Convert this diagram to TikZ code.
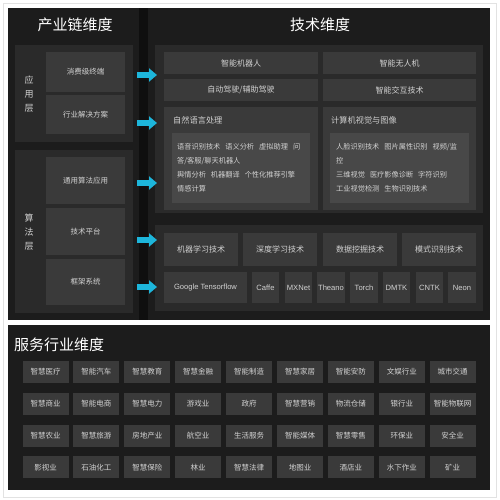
\documentclass[tikz,border=0pt]{standalone}
\usepackage{fontspec}
\setmainfont{Liberation Sans}
\newfontfamily\cjk{Noto Sans CJK SC}
\usetikzlibrary{arrows.meta,positioning}
\definecolor{pagebg}{HTML}{FFFFFF}
\definecolor{pageline}{HTML}{E2E2E2}
\definecolor{panelbg}{HTML}{1C1C1C}
\definecolor{gapbg}{HTML}{0F0F0F}
\definecolor{grpbg}{HTML}{2A2A2A}
\definecolor{itembg}{HTML}{3A3A3A}
\definecolor{innerbg}{HTML}{484848}
\definecolor{txtgray}{HTML}{D2D2D2}
\definecolor{flowcyan}{HTML}{1DB6DB}

\begin{document}
\begin{tikzpicture}[x=1pt,y=-1pt,
  head/.style={text=white,font=\cjk\fontsize{15}{18}\selectfont,inner sep=0pt},
  side/.style={text=txtgray,font=\cjk\fontsize{9}{14}\selectfont,align=center,inner sep=0pt},
  cell/.style={fill=itembg,text=txtgray,font=\cjk\fontsize{7.5}{9}\selectfont,inner sep=0pt},
  lat/.style={cell,font=\fontsize{7.6}{9}\selectfont,minimum height=31},
  svc/.style={cell,minimum width=46,minimum height=22},
  sub/.style={text=txtgray,font=\cjk\fontsize{8.2}{10}\selectfont,inner sep=0pt,anchor=west},
  para/.style={text=txtgray,font=\cjk\fontsize{7.2}{14}\selectfont,align=left,inner sep=0pt,anchor=north west},
  flow/.style={draw=flowcyan,line width=5.5pt,-{Triangle[length=8pt,width=13pt]}}]
\newcommand*{\colx}{45.5} \newcommand*{\colw}{50.9}
\newcommand*{\rowy}{372} \newcommand*{\rowh}{31.8}
\useasboundingbox (0,0) rectangle (499,500);
\fill[pagebg] (0,0) rectangle (499,500);
\draw[pageline] (3,3) rectangle (496,497);
\fill[panelbg] (8,8) rectangle (490,320);
\fill[gapbg] (139,8) rectangle (148,320);
\fill[panelbg] (8,325) rectangle (490,490);
\fill[grpbg] (15,45) rectangle (133,142);
\fill[grpbg] (15,150) rectangle (133,313);
\fill[grpbg] (155,45) rectangle (483,213);
\fill[grpbg] (155,225) rectangle (483,311);
\node[head] (chain) at (75,25) {产业链维度};
\node[head] (tech) at (320,25) {技术维度};
\node[head,anchor=west] (serv) at (14,345) {服务行业维度};
\node[side] (appl) at (29,94) {应\\用\\层};
\node[side] (algo) at (29,232) {算\\法\\层};
\node[cell,minimum width=79,minimum height=40] (cons) at (85.5,72) {消费级终端};
\node[cell,minimum width=79,minimum height=39] (solu) at (85.5,114.5) {行业解决方案};
\node[cell,minimum width=79,minimum height=47] (gena) at (85.5,180.5) {通用算法应用};
\node[cell,minimum width=79,minimum height=47] (plat) at (85.5,231.5) {技术平台};
\node[cell,minimum width=79,minimum height=46] (fram) at (85.5,282) {框架系统};
\node[cell,minimum width=154,minimum height=22,font=\cjk\fontsize{8}{10}\selectfont] (robo) at (241,63) {智能机器人};
\node[cell,minimum width=153,minimum height=22,font=\cjk\fontsize{8}{10}\selectfont] (uav) at (399.5,63) {智能无人机};
\node[cell,minimum width=154,minimum height=22,font=\cjk\fontsize{8}{10}\selectfont] (auto) at (241,90) {自动驾驶/辅助驾驶};
\node[cell,minimum width=153,minimum height=22,font=\cjk\fontsize{8}{10}\selectfont] (intr) at (399.5,90) {智能交互技术};
\node[cell,minimum width=154,minimum height=103] (nlp) at (241,158.5) {};
\node[fill=innerbg,inner sep=0pt,minimum width=138,minimum height=70] (nlpin) at (241,168) {};
\node[sub] (nlpt) at (173,120) {自然语言处理};
\node[para] (nlpx) at (177,143.5) {语音识别技术\hspace{5pt}语义分析\hspace{5pt}虚拟助理\hspace{5pt}问\\答/客服/聊天机器人\\舆情分析\hspace{5pt}机器翻译\hspace{5pt}个性化推荐引擎\\情感计算};
\node[cell,minimum width=153,minimum height=103] (cv) at (399.5,158.5) {};
\node[fill=innerbg,inner sep=0pt,minimum width=139,minimum height=70] (cvin) at (399.5,168) {};
\node[sub] (cvt) at (331,120) {计算机视觉与图像};
\node[para] (cvx) at (336,143.5) {人脸识别技术\hspace{5pt}图片属性识别\hspace{5pt}视频/监\\控\\三维视觉\hspace{5pt}医疗影像诊断\hspace{5pt}字符识别\\工业视觉检测\hspace{5pt}生物识别技术};
\node[cell,minimum width=74,minimum height=33,font=\cjk\fontsize{8}{10}\selectfont] (mlea) at (201,249.5) {机器学习技术};
\node[cell,minimum width=74,minimum height=33,font=\cjk\fontsize{8}{10}\selectfont] (dlea) at (280,249.5) {深度学习技术};
\node[cell,minimum width=74,minimum height=33,font=\cjk\fontsize{8}{10}\selectfont] (dmin) at (360,249.5) {数据挖掘技术};
\node[cell,minimum width=74,minimum height=33,font=\cjk\fontsize{8}{10}\selectfont] (prec) at (439,249.5) {模式识别技术};
\node[lat,minimum width=83] (gtf) at (205.5,287.5) {Google Tensorflow};
\node[lat,minimum width=27] (caffe) at (265.5,287.5) {Caffe};
\node[lat,minimum width=27] (mxnet) at (298.5,287.5) {MXNet};
\node[lat,minimum width=28] (theano) at (331,287.5) {Theano};
\node[lat,minimum width=28] (torch) at (364,287.5) {Torch};
\node[lat,minimum width=27] (dmtk) at (396.5,287.5) {DMTK};
\node[lat,minimum width=27] (cntk) at (429.5,287.5) {CNTK};
\node[lat,minimum width=28] (neon) at (462,287.5) {Neon};
\node[svc] (aa) at (\colx,\rowy) {智慧医疗};
\node[svc] (ab) at (\colx+\colw,\rowy) {智能汽车};
\node[svc] (ac) at (\colx+2*\colw,\rowy) {智慧教育};
\node[svc] (ad) at (\colx+3*\colw,\rowy) {智慧金融};
\node[svc] (ae) at (\colx+4*\colw,\rowy) {智能制造};
\node[svc] (af) at (\colx+5*\colw,\rowy) {智慧家居};
\node[svc] (ag) at (\colx+6*\colw,\rowy) {智能安防};
\node[svc] (ah) at (\colx+7*\colw,\rowy) {文娱行业};
\node[svc] (ai) at (\colx+8*\colw,\rowy) {城市交通};
\node[svc] (ba) at (\colx,\rowy+\rowh) {智慧商业};
\node[svc] (bb) at (\colx+\colw,\rowy+\rowh) {智能电商};
\node[svc] (bc) at (\colx+2*\colw,\rowy+\rowh) {智慧电力};
\node[svc] (bd) at (\colx+3*\colw,\rowy+\rowh) {游戏业};
\node[svc] (be) at (\colx+4*\colw,\rowy+\rowh) {政府};
\node[svc] (bf) at (\colx+5*\colw,\rowy+\rowh) {智慧营销};
\node[svc] (bg) at (\colx+6*\colw,\rowy+\rowh) {物流仓储};
\node[svc] (bh) at (\colx+7*\colw,\rowy+\rowh) {银行业};
\node[svc] (bi) at (\colx+8*\colw,\rowy+\rowh) {智能物联网};
\node[svc] (ca) at (\colx,\rowy+2*\rowh) {智慧农业};
\node[svc] (cb) at (\colx+\colw,\rowy+2*\rowh) {智慧旅游};
\node[svc] (cc) at (\colx+2*\colw,\rowy+2*\rowh) {房地产业};
\node[svc] (cd) at (\colx+3*\colw,\rowy+2*\rowh) {航空业};
\node[svc] (ce) at (\colx+4*\colw,\rowy+2*\rowh) {生活服务};
\node[svc] (cf) at (\colx+5*\colw,\rowy+2*\rowh) {智能媒体};
\node[svc] (cg) at (\colx+6*\colw,\rowy+2*\rowh) {智慧零售};
\node[svc] (ch) at (\colx+7*\colw,\rowy+2*\rowh) {环保业};
\node[svc] (ci) at (\colx+8*\colw,\rowy+2*\rowh) {安全业};
\node[svc] (da) at (\colx,\rowy+3*\rowh) {影视业};
\node[svc] (db) at (\colx+\colw,\rowy+3*\rowh) {石油化工};
\node[svc] (dc) at (\colx+2*\colw,\rowy+3*\rowh) {智慧保险};
\node[svc] (dd) at (\colx+3*\colw,\rowy+3*\rowh) {林业};
\node[svc] (de) at (\colx+4*\colw,\rowy+3*\rowh) {智慧法律};
\node[svc] (df) at (\colx+5*\colw,\rowy+3*\rowh) {地图业};
\node[svc] (dg) at (\colx+6*\colw,\rowy+3*\rowh) {酒店业};
\node[svc] (dh) at (\colx+7*\colw,\rowy+3*\rowh) {水下作业};
\node[svc] (di) at (\colx+8*\colw,\rowy+3*\rowh) {矿业};
\coordinate (pa) at (137,75); \coordinate (qa) at (157,75);
\coordinate (pb) at (137,123); \coordinate (qb) at (157,123);
\coordinate (pc) at (137,183); \coordinate (qc) at (157,183);
\coordinate (pd) at (137,240); \coordinate (qd) at (157,240);
\coordinate (pe) at (137,287); \coordinate (qe) at (157,287);
\draw[flow] (pa) -- (qa);
\draw[flow] (pb) -- (qb);
\draw[flow] (pc) -- (qc);
\draw[flow] (pd) -- (qd);
\draw[flow] (pe) -- (qe);
\end{tikzpicture}
\end{document}
